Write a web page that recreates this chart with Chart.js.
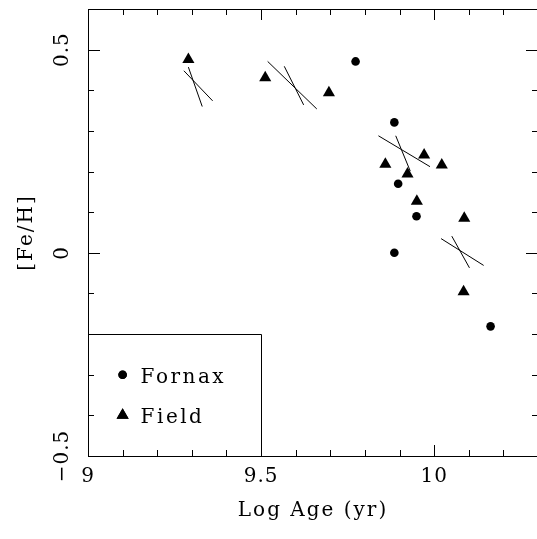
<!DOCTYPE html>
<html>
<head>
<meta charset="utf-8">
<script src="https://cdn.jsdelivr.net/npm/chart.js@4"></script>
<style>
  html, body { margin: 0; padding: 0; background: #fff; overflow: hidden; }
  #wrap { width: 537px; height: 539px; overflow: hidden; }
</style>
</head>
<body>
<div id="wrap"><canvas id="feh" width="540" height="539"></canvas></div>
<script>
// Fornax clusters (log age, [Fe/H])
const fornaxAge = [9.773, 9.885, 9.896, 9.949, 9.885, 10.163];
const fornaxFeH = [0.471, 0.321, 0.170, 0.090, 0.000, -0.181];

// Field stars
const fieldAge = [9.29, 9.512, 9.696, 9.859, 9.971, 10.022, 9.923, 9.950, 10.087, 10.085];
const fieldFeH = [0.476, 0.431, 0.394, 0.218, 0.241, 0.216, 0.194, 0.127, 0.085, -0.096];

// crossed error segments, [x1, y1, x2, y2]
const trackLines = [
    [9.277, 0.448, 9.360, 0.374],
    [9.290, 0.457, 9.330, 0.360],
    [9.519, 0.471, 9.661, 0.354],
    [9.567, 0.459, 9.623, 0.364],
    [9.839, 0.288, 9.988, 0.212],
    [9.889, 0.288, 9.931, 0.201],
    [10.020, 0.035, 10.143, -0.031],
    [10.051, 0.041, 10.102, -0.037]
];

// axes
const xTicks = [9, 9.5, 10];
const xTickLabels = ['9', '9.5', '10'];
const yTicks = [-0.5, 0, 0.5];
const yTickLabels = ['\u22120.5', '0', '0.5'];
const xTitle = 'Log Age (yr)';
const yTitle = '[Fe/H]';
const legendNames = ['Fornax', 'Field'];

const FONT = '20px "DejaVu Serif", "Liberation Serif", serif';

function points(xs, ys) {
    return xs.map((v, i) => ({ x: v, y: ys[i] }));
}

let datasets = [
    {
        label: legendNames[0],
        data: points(fornaxAge, fornaxFeH),
        pointStyle: 'circle',
        pointRadius: 4.3,
        backgroundColor: '#000',
        borderColor: '#000',
        borderWidth: 0,
        showLine: false
    },
    {
        label: legendNames[1],
        data: points(fieldAge, fieldFeH),
        pointStyle: 'triangle',
        pointRadius: 7,
        backgroundColor: '#000',
        borderColor: '#000',
        borderWidth: 0,
        showLine: false
    }
];
trackLines.forEach(s => {
    datasets.push({
        label: 'track',
        data: [{ x: s[0], y: s[1] }, { x: s[2], y: s[3] }],
        showLine: true,
        pointRadius: 0,
        borderColor: '#000',
        borderWidth: 1,
        fill: false
    });
});

// frame, inward ticks, labels and the boxed legend
const framePlugin = {
    id: 'frame',
    afterDatasetsDraw(chart) {
        const ctx = chart.ctx;
        const a = chart.chartArea;
        const xs = chart.scales.x, ys = chart.scales.y;
        ctx.save();
        ctx.strokeStyle = '#000';
        ctx.lineWidth = 1;
        ctx.strokeRect(a.left + 0.5, a.top + 0.5, a.right - a.left, a.bottom - a.top);

        ctx.beginPath();
        // x ticks every 0.1
        for (let i = 0; i <= 13; i++) {
            let v = 9 + i / 10;
            let px = Math.round(xs.getPixelForValue(v)) + 0.5;
            let len = (i % 5 == 0) ? 11 : 6;
            ctx.moveTo(px, a.bottom); ctx.lineTo(px, a.bottom - len);
            ctx.moveTo(px, a.top); ctx.lineTo(px, a.top + len);
        }
        // y ticks every 0.1
        for (let i = 0; i <= 11; i++) {
            let v = -0.5 + i / 10;
            let py = Math.round(ys.getPixelForValue(v)) + 0.5;
            let len = (i % 5 == 0) ? 12 : 6;
            ctx.moveTo(a.left, py); ctx.lineTo(a.left + len, py);
            ctx.moveTo(a.right, py); ctx.lineTo(a.right - len, py);
        }
        ctx.stroke();

        // tick labels
        ctx.fillStyle = '#000';
        ctx.font = FONT;
        ctx.letterSpacing = '1px';
        ctx.textAlign = 'center';
        ctx.textBaseline = 'middle';
        xTicks.forEach((v, i) => {
            ctx.fillText(xTickLabels[i], xs.getPixelForValue(v), 477);
        });
        yTicks.forEach((v, i) => {
            ctx.save();
            ctx.translate(63, ys.getPixelForValue(v));
            ctx.rotate(-Math.PI / 2);
            ctx.fillText(yTickLabels[i], 0, 0);
            ctx.restore();
        });

        // axis titles
        ctx.letterSpacing = '2px';
        ctx.fillText(xTitle, (a.left + a.right) / 2, 511);
        ctx.save();
        ctx.translate(27, (a.top + a.bottom) / 2);
        ctx.rotate(-Math.PI / 2);
        ctx.fillText(yTitle, 0, 0);
        ctx.restore();

        // legend box from (9, -0.2) to (9.5, -0.5)
        let bx = Math.round(xs.getPixelForValue(9.5)) + 0.5;
        let by = Math.round(ys.getPixelForValue(-0.2)) + 0.5;
        ctx.beginPath();
        ctx.moveTo(a.left, by); ctx.lineTo(bx, by); ctx.lineTo(bx, a.bottom);
        ctx.stroke();

        let mx = xs.getPixelForValue(9.1);
        let rows = [ys.getPixelForValue(-0.3), ys.getPixelForValue(-0.4)];
        let styles = ['circle', 'triangle'];
        let radii = [4.3, 7];
        ctx.textAlign = 'left';
        ctx.textBaseline = 'alphabetic';
        ctx.letterSpacing = '2.5px';
        rows.forEach((py, i) => {
            Chart.helpers.drawPoint(ctx, { pointStyle: styles[i], radius: radii[i], borderWidth: 0 }, mx, py);
            ctx.fill();
            ctx.fillText(legendNames[i], mx + 18, py + 8);
        });
        ctx.restore();
    }
};

let ctx = document.getElementById('feh').getContext('2d');
let chart = new Chart(ctx, {
    type: 'scatter',
    data: { datasets: datasets },
    options: {
        responsive: false,
        animation: false,
        devicePixelRatio: 1,
        layout: { autoPadding: false, padding: { left: 88, top: 9, right: 2, bottom: 83 } },
        scales: {
            x: { type: 'linear', min: 9, max: 10.3, display: false },
            y: { type: 'linear', min: -0.5, max: 0.6, display: false }
        },
        plugins: {
            legend: { display: false },
            tooltip: { enabled: false }
        }
    },
    plugins: [framePlugin]
});
</script>
</body>
</html>
